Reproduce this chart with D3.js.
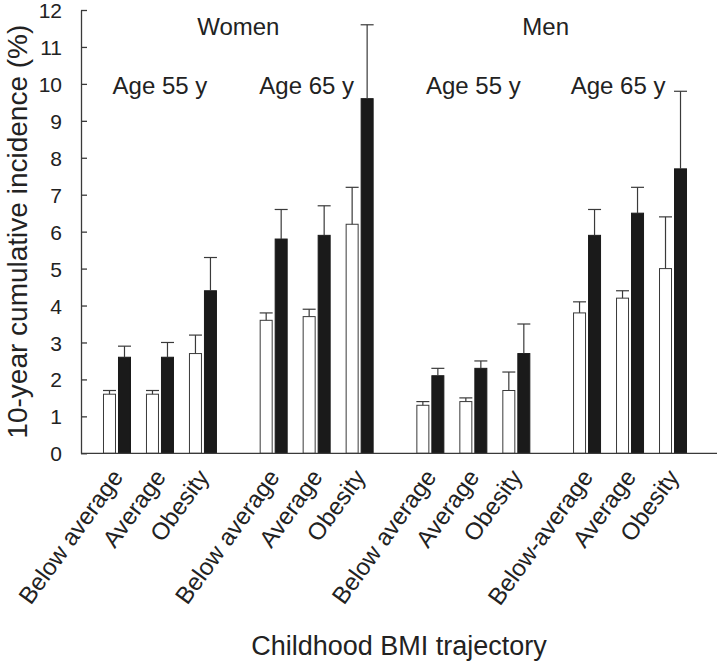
<!DOCTYPE html>
<html>
<head>
<meta charset="utf-8">
<script src="https://cdn.jsdelivr.net/npm/d3@7"></script>
<style>
  html, body { margin: 0; padding: 0; background: #fff; }
  svg { display: block; font-family: "Liberation Sans", Arial, Helvetica, sans-serif; }
</style>
</head>
<body>
<svg id="chart" width="717" height="662"></svg>
<script>
// ---- data ----
const groups = ["Women 55", "Women 65", "Men 55", "Men 65"];
const sexLabels = ["Women", "Men"];
const ageLabels = ["Age 55 y", "Age 65 y", "Age 55 y", "Age 65 y"];
const categories = ["c1", "c2", "c3"];
const tickLabels = [
  ["Below average", "Average", "Obesity"],
  ["Below average", "Average", "Obesity"],
  ["Below average", "Average", "Obesity"],
  ["Below-average", "Average", "Obesity"]
];
const series = ["open", "filled"];
const openValues   = [1.6, 1.6, 2.7, 3.6, 3.7, 6.2, 1.3, 1.4, 1.7, 3.8, 4.2, 5.0];
const openUpper    = [1.7, 1.7, 3.2, 3.8, 3.9, 7.2, 1.4, 1.5, 2.2, 4.1, 4.4, 6.4];
const filledValues = [2.6, 2.6, 4.4, 5.8, 5.9, 9.6, 2.1, 2.3, 2.7, 5.9, 6.5, 7.7];
const filledUpper  = [2.9, 3.0, 5.3, 6.6, 6.7, 11.6, 2.3, 2.5, 3.5, 6.6, 7.2, 9.8];
const yTicks = [0,1,2,3,4,5,6,7,8,9,10,11,12];
const yTitle = "10-year cumulative incidence (%)";
const xTitle = "Childhood BMI trajectory";

// ---- build table ----
const rows = [];
groups.forEach((g, gi) => {
  categories.forEach((c, ci) => {
    const i = gi * 3 + ci;
    rows.push({ group: g, cat: c, label: tickLabels[gi][ci], series: "open", value: openValues[i], upper: openUpper[i] });
    rows.push({ group: g, cat: c, label: tickLabels[gi][ci], series: "filled", value: filledValues[i], upper: filledUpper[i] });
  });
});

// ---- scales ----
const svg = d3.select("#chart");
const axisX = 81, baseY = 453.3, topY = 10, rightX = 717;

const y = d3.scaleLinear().domain([0, 12]).range([baseY, topY]);
const x0 = d3.scaleBand().domain(groups).range([95.5, 694.5]).paddingInner(0.177).paddingOuter(0);
const x1 = d3.scaleBand().domain(categories).range([0, x0.bandwidth()]).padding(0);
const x2 = d3.scaleBand().domain(series).range([x1.bandwidth() / 2 - 13.5, x1.bandwidth() / 2 + 13.5]).paddingInner(0.2).paddingOuter(0);

const ink = "#222";
const lineCol = "#3a3a3a";

// ---- bars ----
const g = svg.append("g");
g.selectAll("rect.bar").data(rows).join("rect")
  .attr("class", "bar")
  .attr("x", d => x0(d.group) + x1(d.cat) + x2(d.series))
  .attr("width", x2.bandwidth())
  .attr("y", d => y(d.value))
  .attr("height", d => baseY - y(d.value))
  .attr("fill", d => d.series === "open" ? "#fff" : "#1a1a1a")
  .attr("stroke", d => d.series === "open" ? lineCol : "#1a1a1a")
  .attr("stroke-width", 1);

// ---- error bars ----
const eb = g.selectAll("g.err").data(rows).join("g").attr("class", "err")
  .attr("stroke", lineCol).attr("stroke-width", 1.2);
eb.append("line")
  .attr("x1", d => x0(d.group) + x1(d.cat) + x2(d.series) + x2.bandwidth() / 2)
  .attr("x2", d => x0(d.group) + x1(d.cat) + x2(d.series) + x2.bandwidth() / 2)
  .attr("y1", d => y(d.value))
  .attr("y2", d => y(d.upper));
eb.append("line")
  .attr("x1", d => x0(d.group) + x1(d.cat) + x2(d.series) - 0.5)
  .attr("x2", d => x0(d.group) + x1(d.cat) + x2(d.series) + x2.bandwidth() + 0.5)
  .attr("y1", d => y(d.upper))
  .attr("y2", d => y(d.upper));

// ---- y axis ----
const yAxis = d3.axisLeft(y).tickValues(yTicks).tickSizeInner(-6).tickSizeOuter(0).tickPadding(19).tickFormat(d3.format("d"));
const ya = svg.append("g").attr("transform", `translate(${axisX},0)`).call(yAxis);
ya.select(".domain").attr("stroke", lineCol).attr("stroke-width", 1.3);
ya.selectAll(".tick line").attr("stroke", lineCol).attr("stroke-width", 1.3);
ya.selectAll(".tick text").attr("fill", ink).attr("dy", "0.36em").style("font-size", "21px").style("font-family", "Liberation Sans, Arial, sans-serif");

// ---- x baseline ----
svg.append("line").attr("x1", axisX).attr("x2", rightX).attr("y1", baseY).attr("y2", baseY)
  .attr("stroke", lineCol).attr("stroke-width", 1.3);

// ---- x tick labels ----
const tickData = [];
groups.forEach((gr, gi) => categories.forEach((c, ci) => tickData.push({ group: gr, cat: c, label: tickLabels[gi][ci] })));
svg.selectAll("text.xt").data(tickData).join("text")
  .attr("class", "xt")
  .attr("transform", d => `translate(${x0(d.group) + x1(d.cat) + x1.bandwidth() / 2 + 7},${baseY + 24}) rotate(-54)`)
  .attr("text-anchor", "end")
  .attr("fill", ink)
  .style("font-size", "24px")
  .text(d => d.label);

// ---- group annotations ----
const sexGroups = [[groups[0], groups[1]], [groups[2], groups[3]]];
const sexOffsets = [0, -6];
svg.selectAll("text.sex").data(sexLabels).join("text")
  .attr("class", "sex")
  .attr("x", (d, i) => (x0(sexGroups[i][0]) + x0(sexGroups[i][1]) + x0.bandwidth()) / 2 + sexOffsets[i])
  .attr("y", 35)
  .attr("text-anchor", "middle").attr("fill", ink).style("font-size", "24px")
  .text(d => d);

const ageOffsets = [0, -10, 0, -12];
svg.selectAll("text.age").data(ageLabels).join("text")
  .attr("class", "age")
  .attr("x", (d, i) => x0(groups[i]) + x0.bandwidth() / 2 + ageOffsets[i])
  .attr("y", 94)
  .attr("text-anchor", "middle").attr("fill", ink).style("font-size", "24px")
  .text(d => d);

// ---- axis titles ----
svg.append("text")
  .attr("transform", `translate(27,${(baseY + topY) / 2}) rotate(-90)`)
  .attr("text-anchor", "middle").attr("fill", ink).style("font-size", "28px")
  .text(yTitle);

svg.append("text")
  .attr("x", 399).attr("y", 655)
  .attr("text-anchor", "middle").attr("fill", ink).style("font-size", "27px")
  .text(xTitle);
</script>
</body>
</html>
